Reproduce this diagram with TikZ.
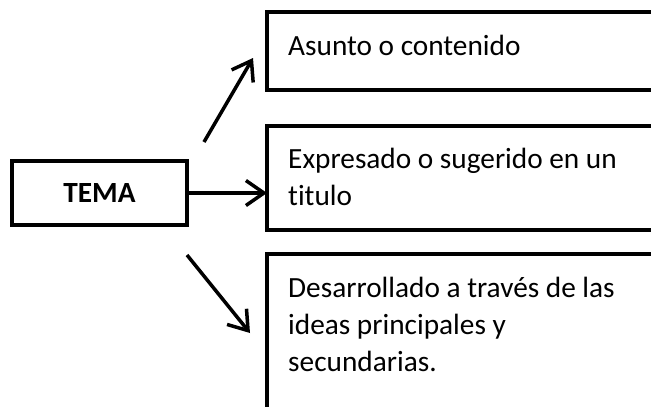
\documentclass[tikz,border=0pt]{standalone}
\usepackage{fontspec}
\setmainfont{Carlito}[Ligatures=NoCommon]
\usetikzlibrary{arrows.meta,calc}
\begin{document}
\begin{tikzpicture}[x=1pt,y=-1pt,
  frame/.style={draw, line width=4pt, inner sep=0pt, outer sep=0pt, anchor=north west},
  txt/.style={font=\fontsize{29.3}{37}\selectfont, inner sep=0pt, anchor=base west, align=left},
  conn/.style={line width=3.5pt, -{Straight Barb[length=18pt,width=25pt]}}
]
\useasboundingbox (0,0) rectangle (651,407);
\clip (0,0) rectangle (651,407);
% boxes
\node[frame, minimum width=175pt, minimum height=64pt, anchor=north west] (tema) at (12,161) {};
\node[font=\fontsize{29.3}{37}\selectfont\bfseries, inner sep=0pt] (temat) at (tema.center) {TEMA};
\node[frame, minimum width=387pt, minimum height=78pt] (b1) at (267,12) {};
\node[frame, minimum width=450pt, minimum height=104pt] (b2) at (267,126) {};
\node[frame, minimum width=450pt, minimum height=200pt] (b3) at (267,254) {};
% texts (anchor = baseline of the last line)
\node[txt] (t1) at (288,55) {Asunto o contenido};
\node[txt] (t2) at (288,205) {Expresado o sugerido en un\\titulo};
\node[txt] (t3) at (288,371) {Desarrollado a través de las\\ideas principales y\\secundarias.};
% connector end points
\coordinate (us) at ($(tema.north east)+(17,-19)$);
\coordinate (ue) at ($(b1.north west)+(-14,46)$);
\coordinate (ls) at ($(tema.south east)+(0,30)$);
\coordinate (le) at ($(b3.north west)+(-17,79)$);
% connectors
\draw[conn] (us) -- (ue);
\draw[conn] (tema.east) -- (tema.east -| b2.west);
\draw[conn] (ls) -- (le);
\end{tikzpicture}
\end{document}
